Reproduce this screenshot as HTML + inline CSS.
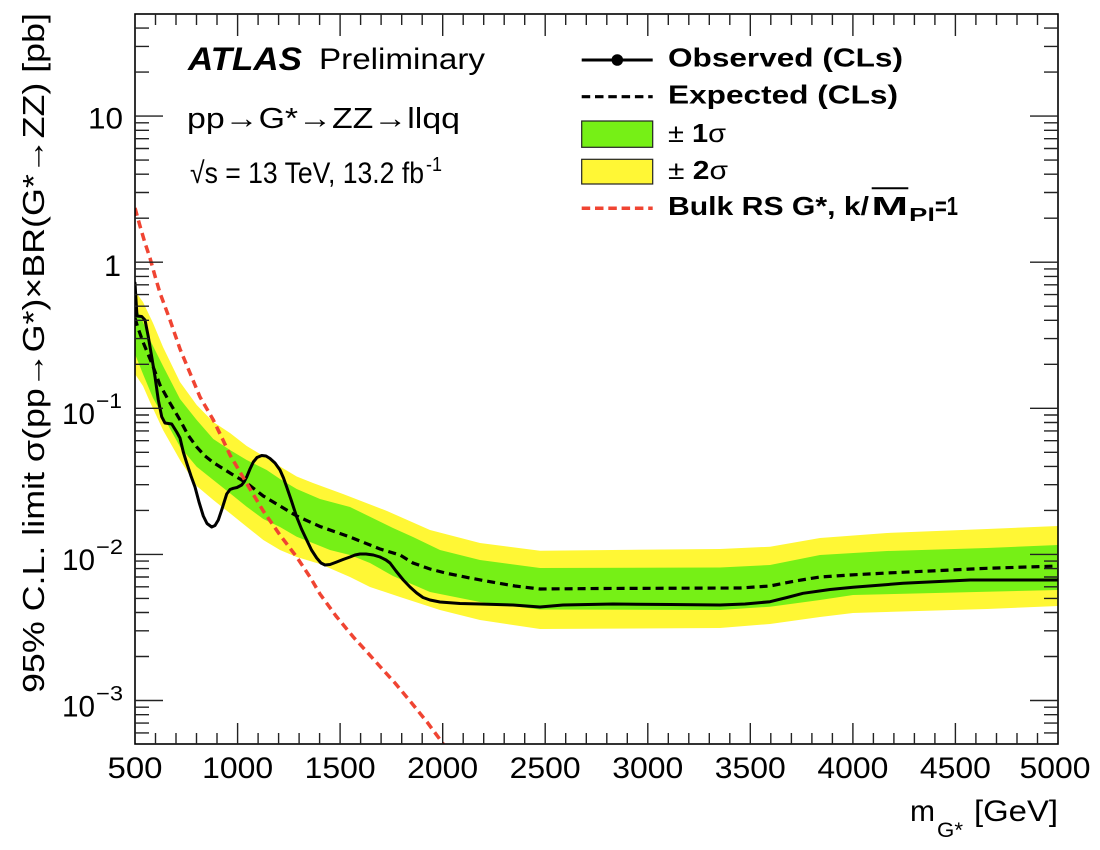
<!DOCTYPE html>
<html>
<head>
<meta charset="utf-8">
<style>
html,body{margin:0;padding:0;background:#fff;}
svg{display:block;}
text{font-family:"Liberation Sans", Arial, Helvetica, sans-serif;fill:#000;}
</style>
</head>
<body>
<svg width="1100" height="850" viewBox="0 0 1100 850" xmlns="http://www.w3.org/2000/svg">
<rect width="1100" height="850" fill="#fff"/>
<defs>
<clipPath id="c"><rect x="135" y="14" width="923" height="730"/></clipPath>
</defs>

<g clip-path="url(#c)">
<polygon fill="#fff735" points="135,291 143,302 153,323 163,347 180,382 196.7,405 213.3,422 230,433 246.7,446 263.3,456 280,466.5 296.7,476.5 313,483 343,494 387,511 400,516.7 430,530 480,543 540,550.7 720,549 770,546.7 820,538 887,533 987,529 1058,526 1058,606 987,609 853,613 820,617 770,624 720,628 540,629 480,620 440,610 400,597 370,587 350,577 320,564 296.7,557 280,550 263.3,540 246.7,526.7 230,513.3 213.3,500 196.7,486 180,460 163,430 150,402 143,386 135,374"/>
<polygon fill="#76f016" points="135,306 143,322 150,340 163,366 180,399 196.7,420 213.3,439 230,450 246.7,460 266.7,470 280,479 296.7,489 320,499 350,507 370,516.7 393,528 413,537 440,550 480,560 540,568 720,567.5 770,565 820,555 887,551 987,548 1058,545 1058,590 853,595 820,600 770,606.7 720,610 540,609.5 480,602 430,592 393,576 370,563 350,555 330,550 313.3,543.3 296.7,536.7 280,527 263.3,519 246.7,506.7 230,493.3 213.3,480 196.7,466.7 180,446.7 163,416 153,398 143,374 135,354"/>
<polyline fill="none" stroke="#000" stroke-width="3.2" stroke-dasharray="8,5" points="135,318 138,328 143,342 151.7,363 160,385 170,403 180,420 188,435 196.7,447 205,456 213.3,462.5 230,473 246.7,483 263.3,496 280,506 296.7,516 320,526.5 350,537 380,549 400,555 413,563 430,569 446.7,573.3 470,578 490,581.7 515,586 540,589 600,588.5 740,588 770,586 795,581 820,577 850,575 887,573 987,568.3 1058,566"/>
<polyline fill="none" stroke="#000" stroke-width="3" stroke-linejoin="round" stroke-linecap="round" points="135,283 136,300 137,316 141.7,316.5 145,320 148.3,336.7 151.7,356.7 155,376.7 158.3,400 161.7,416.7 165,423 171.7,424 176.7,432 180,438 183.3,452 186.7,463 191,476 195,487 199,502 203.3,516 207,523.5 211.7,527 215,525.5 218.3,520 222,509 226.7,494 230,489.5 233.3,488.3 237,487.5 241.7,485 244,482 246.7,477 250,469 253.3,462 257,457.5 261.7,455.5 266,456 270,458.5 275,463 280,470 283.5,478 286.7,487 291.5,501 296.7,517 301.5,529 306.7,540 311.5,550 316.7,558 321,563 325,565 330,564.5 336.7,562 343,559.5 350,557 355,555 360,554 366,554 373.3,555 380,557 386,560 390,563 396,571 403.3,580 410,587 416.7,593 423,597.5 430,600 440,602 460,603.5 480,604 513,605 540,607 563,605 613,604 670,604.5 720,605 745,604 770,601.7 787,597.5 803,593.3 830,589.5 853,587.3 903,583.3 970,580 1058,580"/>
<polyline fill="none" stroke="#f04432" stroke-width="3.5" stroke-dasharray="8,5" points="135,208 140,226 145,243 150,258 155,276 160,293 170,320 180,349 190,373 200,397 213.3,420 223,440 230,455 240,472 250,489 263.3,511 280,535 296.7,557 310,577 320,594 336,616 353.3,637 367,652 380,666.5 395,683 410,701 427,722 443.3,744"/>
</g>

<rect x="135" y="14" width="923" height="730" fill="none" stroke="#000" stroke-width="1.6"/>

<g stroke="#222" stroke-width="1.4" fill="none">
<path d="M155.5 744v-11M176 744v-11M196.5 744v-11M217 744v-11M258.1 744v-11M278.6 744v-11M299.1 744v-11M319.6 744v-11M360.6 744v-11M381.1 744v-11M401.7 744v-11M422.2 744v-11M463.2 744v-11M483.7 744v-11M504.2 744v-11M524.7 744v-11M565.7 744v-11M586.3 744v-11M606.8 744v-11M627.3 744v-11M668.3 744v-11M688.8 744v-11M709.3 744v-11M729.8 744v-11M770.8 744v-11M791.4 744v-11M811.9 744v-11M832.4 744v-11M873.4 744v-11M893.9 744v-11M914.4 744v-11M934.9 744v-11M975.9 744v-11M996.5 744v-11M1017 744v-11M1037.5 744v-11"/>
<path d="M237.6 744v-21M340.1 744v-21M442.7 744v-21M545.2 744v-21M647.8 744v-21M750.3 744v-21M852.9 744v-21M955.4 744v-21"/>
<path d="M155.5 14v11M176 14v11M196.5 14v11M217 14v11M258.1 14v11M278.6 14v11M299.1 14v11M319.6 14v11M360.6 14v11M381.1 14v11M401.7 14v11M422.2 14v11M463.2 14v11M483.7 14v11M504.2 14v11M524.7 14v11M565.7 14v11M586.3 14v11M606.8 14v11M627.3 14v11M668.3 14v11M688.8 14v11M709.3 14v11M729.8 14v11M770.8 14v11M791.4 14v11M811.9 14v11M832.4 14v11M873.4 14v11M893.9 14v11M914.4 14v11M934.9 14v11M975.9 14v11M996.5 14v11M1017 14v11M1037.5 14v11"/>
<path d="M237.6 14v22M340.1 14v22M442.7 14v22M545.2 14v22M647.8 14v22M750.3 14v22M852.9 14v22M955.4 14v22"/>
<path d="M135 732.9h14M135 723.1h14M135 714.7h14M135 707.2h14M135 656.5h14M135 630.8h14M135 612.5h14M135 598.4h14M135 586.8h14M135 577h14M135 568.6h14M135 561.1h14M135 510.4h14M135 484.7h14M135 466.4h14M135 452.3h14M135 440.7h14M135 430.9h14M135 422.5h14M135 415h14M135 364.3h14M135 338.6h14M135 320.3h14M135 306.2h14M135 294.6h14M135 284.8h14M135 276.4h14M135 268.9h14M135 218.2h14M135 192.5h14M135 174.2h14M135 160.1h14M135 148.5h14M135 138.7h14M135 130.3h14M135 122.8h14M135 72.1h14M135 46.4h14M135 28.1h14"/>
<path d="M135 700.5h28M135 554.4h28M135 408.3h28M135 262.2h28M135 116.1h28"/>
<path d="M1058 732.9h-14M1058 723.1h-14M1058 714.7h-14M1058 707.2h-14M1058 656.5h-14M1058 630.8h-14M1058 612.5h-14M1058 598.4h-14M1058 586.8h-14M1058 577h-14M1058 568.6h-14M1058 561.1h-14M1058 510.4h-14M1058 484.7h-14M1058 466.4h-14M1058 452.3h-14M1058 440.7h-14M1058 430.9h-14M1058 422.5h-14M1058 415h-14M1058 364.3h-14M1058 338.6h-14M1058 320.3h-14M1058 306.2h-14M1058 294.6h-14M1058 284.8h-14M1058 276.4h-14M1058 268.9h-14M1058 218.2h-14M1058 192.5h-14M1058 174.2h-14M1058 160.1h-14M1058 148.5h-14M1058 138.7h-14M1058 130.3h-14M1058 122.8h-14M1058 72.1h-14M1058 46.4h-14M1058 28.1h-14"/>
<path d="M1058 700.5h-28M1058 554.4h-28M1058 408.3h-28M1058 262.2h-28M1058 116.1h-28"/>
</g>

<g font-size="30" text-anchor="middle">
<text x="135" y="778" textLength="55" lengthAdjust="spacingAndGlyphs">500</text>
<text x="237.6" y="778" textLength="71" lengthAdjust="spacingAndGlyphs">1000</text>
<text x="340.1" y="778" textLength="71" lengthAdjust="spacingAndGlyphs">1500</text>
<text x="442.7" y="778" textLength="71" lengthAdjust="spacingAndGlyphs">2000</text>
<text x="545.2" y="778" textLength="71" lengthAdjust="spacingAndGlyphs">2500</text>
<text x="647.8" y="778" textLength="71" lengthAdjust="spacingAndGlyphs">3000</text>
<text x="750.3" y="778" textLength="71" lengthAdjust="spacingAndGlyphs">3500</text>
<text x="852.9" y="778" textLength="71" lengthAdjust="spacingAndGlyphs">4000</text>
<text x="955.4" y="778" textLength="71" lengthAdjust="spacingAndGlyphs">4500</text>
<text x="1055" y="778" textLength="71" lengthAdjust="spacingAndGlyphs">5000</text>
</g>

<g font-size="30">
<text x="88" y="128.5" textLength="35" lengthAdjust="spacingAndGlyphs">10</text>
<text x="104" y="276" textLength="17" lengthAdjust="spacingAndGlyphs">1</text>
<text x="62" y="424" textLength="33" lengthAdjust="spacingAndGlyphs">10</text>
<text x="96" y="408" font-size="21" textLength="26" lengthAdjust="spacingAndGlyphs">−1</text>
<text x="62" y="570" textLength="33" lengthAdjust="spacingAndGlyphs">10</text>
<text x="96" y="554" font-size="21" textLength="27" lengthAdjust="spacingAndGlyphs">−2</text>
<text x="62" y="716.5" textLength="33" lengthAdjust="spacingAndGlyphs">10</text>
<text x="96" y="700.5" font-size="21" textLength="27" lengthAdjust="spacingAndGlyphs">−3</text>
</g>

<text transform="translate(44,693) rotate(-90)" font-size="31" textLength="680" lengthAdjust="spacingAndGlyphs">95% C.L. limit σ(pp→G*)×BR(G*→ZZ) [pb]</text>
<text x="910" y="821" font-size="30" textLength="25" lengthAdjust="spacingAndGlyphs">m</text>
<text x="937" y="837" font-size="21" textLength="26" lengthAdjust="spacingAndGlyphs">G*</text>
<text x="974" y="821" font-size="30" textLength="84" lengthAdjust="spacingAndGlyphs">[GeV]</text>

<text x="188" y="70" font-size="32" font-weight="bold" font-style="italic" textLength="114" lengthAdjust="spacingAndGlyphs">ATLAS</text>
<text x="319" y="69" font-size="30" textLength="166" lengthAdjust="spacingAndGlyphs">Preliminary</text>
<text x="187" y="128" font-size="29" textLength="273" lengthAdjust="spacingAndGlyphs">pp→G*→ZZ→llqq</text>
<text x="190" y="183" font-size="30" textLength="234" lengthAdjust="spacingAndGlyphs">√s = 13 TeV, 13.2 fb</text>
<text x="426" y="171" font-size="20" textLength="16" lengthAdjust="spacingAndGlyphs">-1</text>

<line x1="581.7" y1="60" x2="652.7" y2="60" stroke="#000" stroke-width="3"/>
<circle cx="617.3" cy="60" r="5.8" fill="#000"/>
<line x1="581.7" y1="96.7" x2="652.7" y2="96.7" stroke="#000" stroke-width="3.2" stroke-dasharray="8.5,4.8"/>
<rect x="581.7" y="121" width="71" height="26.3" fill="#76f016" stroke="#222" stroke-width="1.2"/>
<rect x="581.7" y="159.3" width="71" height="24.7" fill="#fff735" stroke="#222" stroke-width="1.2"/>
<line x1="581.7" y1="208.3" x2="652.7" y2="208.3" stroke="#f04432" stroke-width="3.5" stroke-dasharray="8.5,4.8"/>

<g font-size="26" font-weight="bold">
<text x="668" y="66.7" textLength="235" lengthAdjust="spacingAndGlyphs">Observed (CLs)</text>
<text x="668" y="103.3" textLength="230" lengthAdjust="spacingAndGlyphs">Expected (CLs)</text>
<text x="668" y="142" textLength="58" lengthAdjust="spacingAndGlyphs"><tspan font-weight="normal">± </tspan>1<tspan font-weight="normal">σ</tspan></text>
<text x="668" y="179" textLength="60" lengthAdjust="spacingAndGlyphs"><tspan font-weight="normal">± </tspan>2<tspan font-weight="normal">σ</tspan></text>
<text x="668" y="215" textLength="201" lengthAdjust="spacingAndGlyphs">Bulk RS G*, k/</text>
<text x="871.5" y="215" textLength="36.5" lengthAdjust="spacingAndGlyphs">M</text>
<text x="909" y="221" font-size="18" textLength="26" lengthAdjust="spacingAndGlyphs">Pl</text>
<text x="935" y="215" font-weight="bold" textLength="23" lengthAdjust="spacingAndGlyphs">=1</text>
</g>
<line x1="871.7" y1="188.3" x2="908.3" y2="188.3" stroke="#000" stroke-width="2"/>
</svg>
</body>
</html>
